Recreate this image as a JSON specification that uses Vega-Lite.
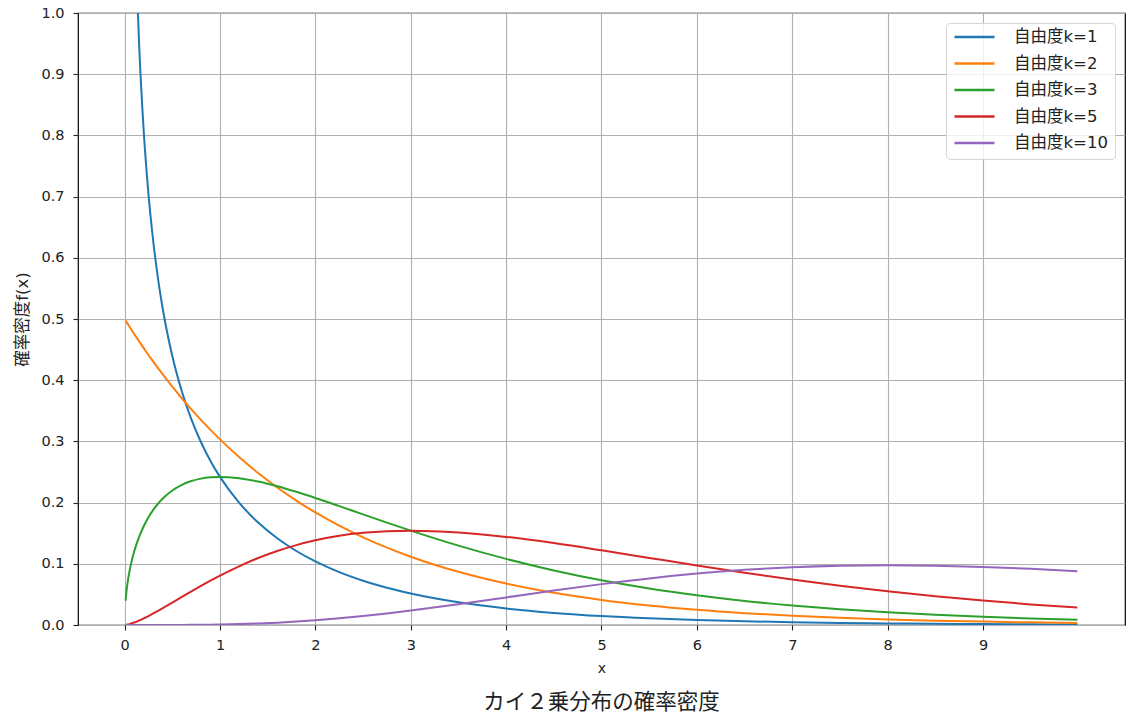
{
  "$schema": "https://vega.github.io/schema/vega-lite/v6.json",
  "width": 1047,
  "height": 612,
  "autosize": {"type": "none"},
  "padding": {"left": 78, "top": 13, "right": 8, "bottom": 99},
  "background": "white",
  "config": {
    "font": "DejaVu Sans, Noto Sans CJK JP",
    "view": {"stroke": "black", "strokeWidth": 1.2}
  },
  "title": {
    "text": "カイ２乗分布の確率密度",
    "orient": "bottom",
    "font": "Noto Sans CJK JP",
    "fontSize": 21.5,
    "fontWeight": "normal",
    "color": "#222",
    "offset": 16
  },
  "data": {
    "values": [
      {"x": 0.01, "k1": 3.9695, "k2": 0.49751, "k3": 0.0397, "k5": 0.000132, "k10": 0},
      {"x": 0.02, "k1": 2.7929, "k2": 0.49502, "k3": 0.0559, "k5": 0.000372, "k10": 0},
      {"x": 0.03, "k1": 2.269, "k2": 0.49256, "k3": 0.0681, "k5": 0.000681, "k10": 0},
      {"x": 0.05, "k1": 1.7401, "k2": 0.48766, "k3": 0.087, "k5": 0.00145, "k10": 0},
      {"x": 0.07, "k1": 1.456, "k2": 0.48281, "k3": 0.1019, "k5": 0.00238, "k10": 0},
      {"x": 0.1, "k1": 1.2, "k2": 0.47562, "k3": 0.12, "k5": 0.004, "k10": 0.0000001},
      {"x": 0.12, "k1": 1.0846, "k2": 0.47088, "k3": 0.1301, "k5": 0.0052, "k10": 0.00000025},
      {"x": 0.15, "k1": 0.9556, "k2": 0.46387, "k3": 0.1433, "k5": 0.00717, "k10": 0.0000006},
      {"x": 0.2, "k1": 0.8072, "k2": 0.45242, "k3": 0.1614, "k5": 0.01076, "k10": 0.0000019},
      {"x": 0.25, "k1": 0.7041, "k2": 0.44125, "k3": 0.176, "k5": 0.01467, "k10": 0.0000045},
      {"x": 0.3, "k1": 0.6269, "k2": 0.43035, "k3": 0.1881, "k5": 0.01881, "k10": 0.0000091},
      {"x": 0.35, "k1": 0.5661, "k2": 0.41973, "k3": 0.1981, "k5": 0.02311, "k10": 0.000016},
      {"x": 0.4, "k1": 0.5164, "k2": 0.40937, "k3": 0.2066, "k5": 0.02754, "k10": 0.0000273},
      {"x": 0.5, "k1": 0.4394, "k2": 0.3894, "k3": 0.2197, "k5": 0.03662, "k10": 0.0000634},
      {"x": 0.6, "k1": 0.3815, "k2": 0.37041, "k3": 0.2289, "k5": 0.04579, "k10": 0.000125},
      {"x": 0.7, "k1": 0.336, "k2": 0.35235, "k3": 0.2352, "k5": 0.05488, "k10": 0.00022},
      {"x": 0.8, "k1": 0.299, "k2": 0.33516, "k3": 0.2392, "k5": 0.06378, "k10": 0.000357},
      {"x": 0.9, "k1": 0.2681, "k2": 0.31882, "k3": 0.2413, "k5": 0.0724, "k10": 0.000545},
      {"x": 1.0, "k1": 0.242, "k2": 0.30327, "k3": 0.242, "k5": 0.08066, "k10": 0.00079},
      {"x": 1.2, "k1": 0.1999, "k2": 0.27441, "k3": 0.2398, "k5": 0.09594, "k10": 0.001482},
      {"x": 1.4, "k1": 0.1674, "k2": 0.2483, "k3": 0.2344, "k5": 0.10939, "k10": 0.002484},
      {"x": 1.6, "k1": 0.1417, "k2": 0.22467, "k3": 0.2267, "k5": 0.12093, "k10": 0.003834},
      {"x": 1.8, "k1": 0.1209, "k2": 0.20329, "k3": 0.2176, "k5": 0.13057, "k10": 0.005557},
      {"x": 2.0, "k1": 0.1038, "k2": 0.18394, "k3": 0.2076, "k5": 0.13837, "k10": 0.007664},
      {"x": 2.25, "k1": 0.0863, "k2": 0.16233, "k3": 0.1943, "k5": 0.14571, "k10": 0.010834},
      {"x": 2.5, "k1": 0.0723, "k2": 0.14325, "k3": 0.1807, "k5": 0.1506, "k10": 0.014572},
      {"x": 2.75, "k1": 0.0608, "k2": 0.12642, "k3": 0.1673, "k5": 0.15333, "k10": 0.018828},
      {"x": 3.0, "k1": 0.0514, "k2": 0.11157, "k3": 0.1542, "k5": 0.15418, "k10": 0.023533},
      {"x": 3.5, "k1": 0.0371, "k2": 0.08689, "k3": 0.1297, "k5": 0.15132, "k10": 0.033954},
      {"x": 4.0, "k1": 0.027, "k2": 0.06767, "k3": 0.108, "k5": 0.14397, "k10": 0.045113},
      {"x": 4.5, "k1": 0.0198, "k2": 0.0527, "k3": 0.0892, "k5": 0.1338, "k10": 0.056277},
      {"x": 5.0, "k1": 0.0146, "k2": 0.04104, "k3": 0.0732, "k5": 0.12203, "k10": 0.066801},
      {"x": 5.5, "k1": 0.0109, "k2": 0.03196, "k3": 0.0598, "k5": 0.10965, "k10": 0.076169},
      {"x": 6.0, "k1": 0.0081, "k2": 0.02489, "k3": 0.0487, "k5": 0.0973, "k10": 0.084015},
      {"x": 6.5, "k1": 0.0061, "k2": 0.01939, "k3": 0.0394, "k5": 0.08545, "k10": 0.090122},
      {"x": 7.0, "k1": 0.0046, "k2": 0.0151, "k3": 0.0319, "k5": 0.07436, "k10": 0.094405},
      {"x": 7.5, "k1": 0.0034, "k2": 0.01176, "k3": 0.0257, "k5": 0.06423, "k10": 0.096891},
      {"x": 8.0, "k1": 0.0026, "k2": 0.00916, "k3": 0.0207, "k5": 0.05512, "k10": 0.097685},
      {"x": 8.5, "k1": 0.002, "k2": 0.00713, "k3": 0.0166, "k5": 0.047, "k10": 0.096952},
      {"x": 9.0, "k1": 0.0015, "k2": 0.00555, "k3": 0.0133, "k5": 0.0399, "k10": 0.094903},
      {"x": 9.5, "k1": 0.0011, "k2": 0.00433, "k3": 0.0106, "k5": 0.03369, "k10": 0.091756},
      {"x": 9.99, "k1": 0.0009, "k2": 0.00339, "k3": 0.0085, "k5": 0.02844, "k10": 0.08782}
    ]
  },
  "transform": [
    {"fold": ["k1", "k2", "k3", "k5", "k10"], "as": ["series", "y"]}
  ],
  "mark": {"type": "line", "clip": true, "strokeWidth": 2, "interpolate": "monotone"},
  "encoding": {
    "x": {
      "field": "x",
      "type": "quantitative",
      "scale": {"domain": [-0.489, 10.489], "nice": false, "zero": false},
      "axis": {
        "title": "x",
        "values": [0, 1, 2, 3, 4, 5, 6, 7, 8, 9],
        "format": "d",
        "grid": true,
        "gridColor": "#b0b0b0",
        "gridWidth": 1.1,
        "domain": false,
        "tickColor": "#222",
        "tickSize": 5,
        "tickWidth": 1.1,
        "labelFontSize": 14.5,
        "labelColor": "#222",
        "labelPadding": 8,
        "titleFontSize": 14,
        "titleFontWeight": "normal",
        "titleColor": "#222",
        "titlePadding": 10
      }
    },
    "y": {
      "field": "y",
      "type": "quantitative",
      "scale": {"domain": [0, 1], "nice": false},
      "axis": {
        "title": "確率密度f(x)",
        "values": [0, 0.1, 0.2, 0.3, 0.4, 0.5, 0.6, 0.7, 0.8, 0.9, 1.0],
        "format": ".1f",
        "grid": true,
        "gridColor": "#b0b0b0",
        "gridWidth": 1.1,
        "domain": false,
        "tickColor": "#222",
        "tickSize": 5,
        "tickWidth": 1.1,
        "labelFontSize": 14.5,
        "labelColor": "#222",
        "labelPadding": 9,
        "titleFontSize": 16.5,
        "titleFontWeight": "normal",
        "titleColor": "#222",
        "titlePadding": 10
      }
    },
    "color": {
      "field": "series",
      "type": "nominal",
      "scale": {
        "domain": ["k1", "k2", "k3", "k5", "k10"],
        "range": ["#1f77b4", "#ff7f0e", "#2ca02c", "#d62728", "#9467bd"]
      },
      "legend": {
        "title": null,
        "orient": "top-right",
        "offset": 10,
        "padding": 7,
        "fillColor": "rgba(255,255,255,0.8)",
        "strokeColor": "#d5d5d5",
        "cornerRadius": 4,
        "symbolType": "stroke",
        "symbolSize": 1600,
        "symbolStrokeWidth": 2.5,
        "labelFontSize": 16.5,
        "labelColor": "#222",
        "labelOffset": 18,
        "clipHeight": 14,
        "rowPadding": 9.5,
        "labelExpr": "'自由度k=' + slice(datum.label, 1)"
      }
    }
  }
}
